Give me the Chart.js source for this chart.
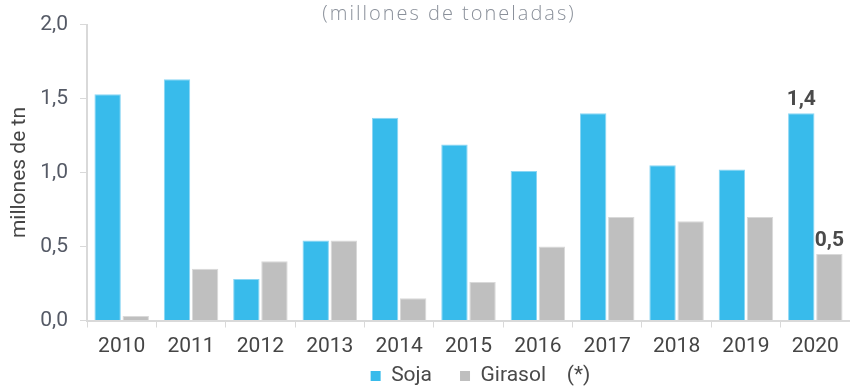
<!DOCTYPE html>
<html>
<head>
<meta charset="utf-8">
<script src="https://cdn.jsdelivr.net/npm/chart.js@4/dist/chart.umd.min.js"></script>
<style>
  html, body { margin: 0; padding: 0; background: #ffffff; }
  #wrap { width: 850px; height: 388px; position: relative; }
</style>
</head>
<body>
<div id="wrap"><canvas id="chart" width="850" height="388"></canvas></div>
<script>
// Producción anual (millones de toneladas)
const years = ['2010', '2011', '2012', '2013', '2014', '2015', '2016', '2017', '2018', '2019', '2020'];
const soja = [1.53, 1.63, 0.28, 0.54, 1.37, 1.19, 1.01, 1.40, 1.05, 1.02, 1.40];
const girasol = [0.03, 0.35, 0.40, 0.54, 0.15, 0.26, 0.50, 0.70, 0.67, 0.70, 0.45];
const yTicks = [0, 0.5, 1.0, 1.5, 2.0];
const seriesNames = ['Soja', 'Girasol'];
const noteMark = '(*)';
const subtitle = '(millones de toneladas)';
const yTitle = 'millones de tn';
const labeledYears = ['2020'];

const fmt = v => v.toFixed(1).replace('.', ',');

// Subtítulo centrado sobre el gráfico
const subtitlePlugin = {
  id: 'subtitle',
  afterDraw(chart) {
    const ctx = chart.ctx;
    ctx.save();
    ctx.font = '300 20px "Open Sans"';
    if ('letterSpacing' in ctx) ctx.letterSpacing = '2px';
    ctx.fillStyle = '#8a909a';
    ctx.textAlign = 'center';
    ctx.textBaseline = 'alphabetic';
    ctx.fillText(subtitle, 449, 20);
    ctx.restore();
  }
};

// Etiquetas de valor sobre las barras del último año
const valueLabels = {
  id: 'valueLabels',
  afterDatasetsDraw(chart) {
    const ctx = chart.ctx;
    ctx.save();
    ctx.font = 'bold 21px Roboto';
    ctx.fillStyle = '#4a4a4a';
    ctx.textAlign = 'center';
    ctx.textBaseline = 'alphabetic';
    chart.data.datasets.forEach((ds, di) => {
      const meta = chart.getDatasetMeta(di);
      chart.data.labels.forEach((lab, i) => {
        if (!labeledYears.includes(lab)) return;
        const bar = meta.data[i];
        ctx.fillText(fmt(ds.data[i]), bar.x, bar.y - 8);
      });
    });
    ctx.restore();
  }
};

// Altura fija de la leyenda, desplazamiento horizontal y zona de etiquetas del eje X
const legendFit = {
  id: 'legendFit',
  beforeLayout(chart) {
    const lg = chart.legend;
    if (lg && !lg._fixedFit) {
      const fit = lg.fit;
      lg.fit = function () {
        fit.call(this);
        this.height = 50.5;
      };
      lg._fixedFit = true;
    }
  },
  afterLayout(chart) {
    const lg = chart.legend;
    if (lg) {
      lg.left += 12;
      lg.right += 12;
    }
    const x = chart.scales.x;
    x.bottom = chart.height;
    x.height = x.bottom - x.top;
  }
};

Chart.defaults.font.family = 'Roboto';

new Chart(document.getElementById('chart'), {
  type: 'bar',
  data: {
    labels: years,
    datasets: [
      {
        label: seriesNames[0],
        data: soja,
        backgroundColor: '#38bbeb',
        borderColor: '#8ad6f4',
        borderWidth: 1
      },
      {
        label: seriesNames[1],
        data: girasol,
        backgroundColor: '#bfbfbf',
        borderColor: '#d9d9d9',
        borderWidth: 1
      }
    ]
  },
  options: {
    responsive: false,
    animation: false,
    devicePixelRatio: 1,
    categoryPercentage: 0.81,
    barPercentage: 0.94,
    layout: { padding: { top: 23, right: 0, left: 0, bottom: 0 } },
    plugins: {
      tooltip: { enabled: false },
      title: { display: false },
      legend: {
        display: true,
        position: 'bottom',
        fullSize: false,
        labels: {
          color: '#4a4a4a',
          font: { size: 21 },
          boxWidth: 10,
          boxHeight: 10,
          padding: 28,
          generateLabels(chart) {
            const items = Chart.defaults.plugins.legend.labels.generateLabels(chart);
            items[1].text = items[1].text + '    ' + noteMark;
            items.forEach(it => { it.lineWidth = 0; });
            return items;
          }
        }
      }
    },
    scales: {
      x: {
        grid: {
          display: true,
          drawOnChartArea: false,
          offset: true,
          color: '#d9d9d9',
          tickLength: 7,
          lineWidth: 1
        },
        border: { color: '#d9d9d9', width: 2 },
        ticks: {
          color: '#454545',
          font: { size: 21 },
          padding: 7,
          maxRotation: 0
        },
        afterFit(scale) { scale.height = 17; }
      },
      y: {
        min: 0,
        max: 2,
        afterBuildTicks(scale) { scale.ticks = yTicks.map(v => ({ value: v })); },
        grid: {
          display: true,
          drawOnChartArea: false,
          color: '#d9d9d9',
          tickLength: 7
        },
        border: { color: '#d9d9d9', width: 2 },
        ticks: {
          color: '#555a66',
          font: { size: 21 },
          padding: 12,
          callback: v => fmt(v)
        },
        title: {
          display: true,
          text: yTitle,
          color: '#454545',
          font: { size: 21 },
          padding: { top: 7, bottom: 0 }
        },
        afterFit(scale) { scale.width = 87; }
      }
    }
  },
  plugins: [subtitlePlugin, valueLabels, legendFit]
});
</script>
</body>
</html>
